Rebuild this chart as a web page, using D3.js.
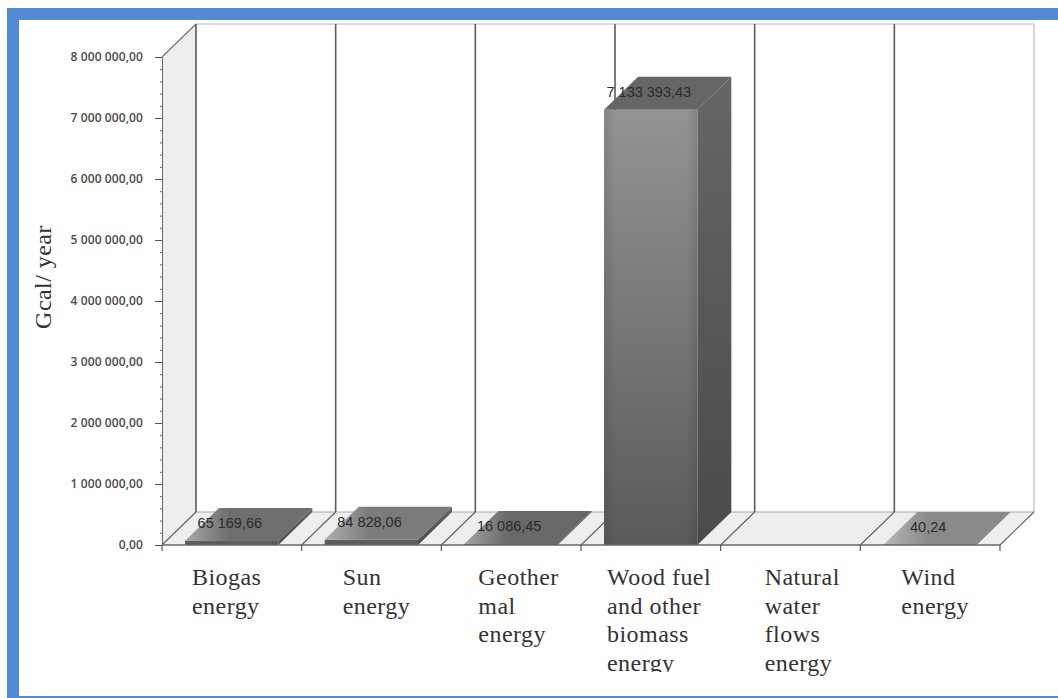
<!DOCTYPE html>
<html>
<head>
<meta charset="utf-8">
<style>
html,body{margin:0;padding:0;background:#fff}
svg{display:block}
.num{font-family:"Open Sans",sans-serif;font-weight:600;font-size:12px;fill:#4a4a4a;letter-spacing:0.1px}
.val{font-family:"Liberation Sans",Arial,sans-serif;font-size:14.5px;fill:#2a2a2a}
.cat{font-family:"Liberation Serif",serif;font-size:24px;fill:#333;letter-spacing:0.45px}
</style>
<script src="https://cdn.jsdelivr.net/npm/d3@7"></script>
</head>
<body>
<svg id="chart" width="1058" height="698"></svg>
<script>
// Annual renewable energy potential by source, Gcal per year
const categories = ["Biogas energy","Sun energy","Geothermal energy","Wood fuel and other biomass energy","Natural water flows energy","Wind energy"];
const values = [65169.66, 84828.06, 16086.45, 7133393.43, null, 40.24];
const categoryLines = [["Biogas","energy"],["Sun","energy"],["Geother","mal","energy"],["Wood fuel","and other","biomass","energy"],["Natural","water","flows","energy"],["Wind","energy"]];
const yTicks = [0,1000000,2000000,3000000,4000000,5000000,6000000,7000000,8000000];
const topShades = ["#6e6e6e","#7b7b7b","#686868","#666666",null,"#8a8a8a"];
const labelShift = [30,41,37,26,44,41];

const svg = d3.select("#chart");
const depthX = 34, depthY = -33;
const fmt = d3.formatLocale({decimal:",",thousands:" ",grouping:[3],currency:["",""]}).format(",.2f");

const x = d3.scaleBand().domain(categories).range([162,1000]).paddingInner(0).paddingOuter(0);
const y = d3.scaleLinear().domain([0,8000000]).range([545,57]);
const barInset = 0.165, barShare = 0.668;

// Page frame
svg.append("rect").attr("x",7).attr("y",8).attr("width",1051).attr("height",690).attr("fill","#528ad3");
svg.append("rect").attr("x",19).attr("y",20).attr("width",1039).attr("height",676).attr("fill","#fff");

const pts = a => a.map(p => p.join(",")).join(" ");
const x0 = x.range()[0], x1 = x.range()[1], yB = y(0), yT = y(8000000);

const defs = svg.append("defs");
const frontGrad = defs.append("linearGradient").attr("id","front").attr("x1",0).attr("y1",0).attr("x2",0).attr("y2",1);
frontGrad.append("stop").attr("offset",0).attr("stop-color","#939393");
frontGrad.append("stop").attr("offset",1).attr("stop-color","#5a5a5a");
const sideGrad = defs.append("linearGradient").attr("id","side").attr("x1",0).attr("y1",0).attr("x2",0).attr("y2",1);
sideGrad.append("stop").attr("offset",0).attr("stop-color","#666666");
sideGrad.append("stop").attr("offset",1).attr("stop-color","#4a4a4a");
const edgeGrad = defs.append("linearGradient").attr("id","edge").attr("x1",0).attr("y1",0).attr("x2",1).attr("y2",0);
edgeGrad.append("stop").attr("offset",0).attr("stop-color","#000").attr("stop-opacity",0.1);
edgeGrad.append("stop").attr("offset",0.12).attr("stop-color","#000").attr("stop-opacity",0);
edgeGrad.append("stop").attr("offset",0.88).attr("stop-color","#000").attr("stop-opacity",0);
edgeGrad.append("stop").attr("offset",1).attr("stop-color","#000").attr("stop-opacity",0.1);
const fadeGrad = defs.append("linearGradient").attr("id","fade").attr("x1",0).attr("y1",0).attr("x2",1).attr("y2",0);
fadeGrad.append("stop").attr("offset",0).attr("stop-color","#fff").attr("stop-opacity",0.4);
fadeGrad.append("stop").attr("offset",0.35).attr("stop-color","#fff").attr("stop-opacity",0);

// Back wall, side wall and floor
svg.append("polygon").attr("points",pts([[x0+depthX,yT+depthY],[x1+depthX,yT+depthY],[x1+depthX,yB+depthY],[x0+depthX,yB+depthY]])).attr("fill","#fff");
svg.append("line").attr("x1",x0+depthX).attr("x2",x1+depthX).attr("y1",yT+depthY).attr("y2",yT+depthY).attr("stroke","#d8d8d8").attr("stroke-width",2);
svg.append("line").attr("x1",x1+depthX).attr("x2",x1+depthX).attr("y1",yT+depthY).attr("y2",yB+depthY).attr("stroke","#d4d4d4").attr("stroke-width",2);
svg.append("polygon").attr("points",pts([[x0,yT],[x0+depthX,yT+depthY],[x0+depthX,yB+depthY],[x0,yB]])).attr("fill","#eeeeee");
svg.append("polyline").attr("points",pts([[x0,yT],[x0+depthX,yT+depthY]])).attr("fill","none").attr("stroke","#777").attr("stroke-width",1.3);
svg.append("polygon").attr("points",pts([[x0,yB],[x1,yB],[x1+depthX,yB+depthY],[x0+depthX,yB+depthY]])).attr("fill","#eeeeee");
svg.append("line").attr("x1",x0+depthX).attr("x2",x1+depthX).attr("y1",yB+depthY).attr("y2",yB+depthY).attr("stroke","#aaa").attr("stroke-width",1.2);

// Band separators on the wall and floor
const bounds = categories.map(c => x(c)).concat([x1]);
bounds.forEach((b,i) => {
  if (i < categories.length) {
    svg.append("line").attr("x1",b+depthX).attr("x2",b+depthX).attr("y1",yT+depthY).attr("y2",yB+depthY).attr("stroke","#5a5a5a").attr("stroke-width",1.6);
  }
  svg.append("line").attr("x1",b).attr("y1",yB).attr("x2",b+depthX).attr("y2",yB+depthY).attr("stroke","#666").attr("stroke-width",1.2);
});

// Bars
categories.forEach((c,i) => {
  const v = values[i];
  if (v === null) return;
  const bx = x(c) + x.bandwidth()*barInset, bw = x.bandwidth()*barShare, ty = y(v);
  const tall = yB-ty > 20;
  const topFace = pts([[bx,ty],[bx+bw,ty],[bx+bw+depthX,ty+depthY],[bx+depthX,ty+depthY]]);
  const g = svg.append("g");
  g.append("polygon").attr("points",pts([[bx+bw,ty],[bx+bw+depthX,ty+depthY],[bx+bw+depthX,yB+depthY],[bx+bw,yB]])).attr("fill","url(#side)");
  g.append("rect").attr("x",bx).attr("y",ty).attr("width",bw).attr("height",yB-ty).attr("fill",tall?"url(#front)":"#5c5c5c");
  if (tall) g.append("rect").attr("x",bx).attr("y",ty).attr("width",bw).attr("height",yB-ty).attr("fill","url(#edge)");
  g.append("polygon").attr("points",topFace).attr("fill",topShades[i]);
  if (!tall) g.append("polygon").attr("points",topFace).attr("fill","url(#fade)");
});

// Value axis
const yAxis = g => g.call(d3.axisLeft(y).tickValues(d3.range(0,8000001,200000)).tickSize(2).tickFormat(""))
  .call(s => s.select(".domain").attr("stroke","#666"))
  .call(s => s.selectAll(".tick line").attr("stroke","#666"));
svg.append("g").attr("transform",`translate(${x0},0)`).call(yAxis);
svg.append("g").attr("transform",`translate(${x0},0)`)
  .call(d3.axisLeft(y).tickValues(yTicks).tickSize(7).tickPadding(12).tickFormat(fmt))
  .call(s => s.select(".domain").remove())
  .call(s => s.selectAll(".tick line").attr("stroke","#555"))
  .call(s => s.selectAll(".tick text").attr("class","num").attr("fill",null));
svg.selectAll("g").attr("font-family",null).attr("font-size",null);

// Category axis: ticks on band edges
svg.append("line").attr("x1",x0).attr("x2",x1).attr("y1",yB).attr("y2",yB).attr("stroke","#666").attr("stroke-width",1.4);
bounds.forEach(b => svg.append("line").attr("x1",b).attr("x2",b).attr("y1",yB).attr("y2",yB+6).attr("stroke","#555").attr("stroke-width",1.2));

// Value labels
categories.forEach((c,i) => {
  if (values[i] === null) return;
  svg.append("text").attr("class","val").attr("text-anchor","middle").attr("dominant-baseline","middle")
    .attr("x",x(c)+x.bandwidth()/2-2).attr("y",y(values[i])-17).text(fmt(values[i]));
});

// Category labels, wrapped by hand
categoryLines.forEach((lines,i) => {
  const t = svg.append("text").attr("class","cat");
  lines.forEach((l,k) => t.append("tspan").attr("x",x(categories[i])+labelShift[i]).attr("y",585+k*28.5).text(l));
});
// The biomass label runs out of its box at the last line
svg.append("rect").attr("x",x(categories[3])).attr("y",672).attr("width",x.bandwidth()).attr("height",20).attr("fill","#fff");

// Value axis title
svg.append("text").attr("class","cat").attr("text-anchor","middle")
  .attr("transform","translate(51,277) rotate(-90)").text("Gcal/ year");
</script>
</body>
</html>
